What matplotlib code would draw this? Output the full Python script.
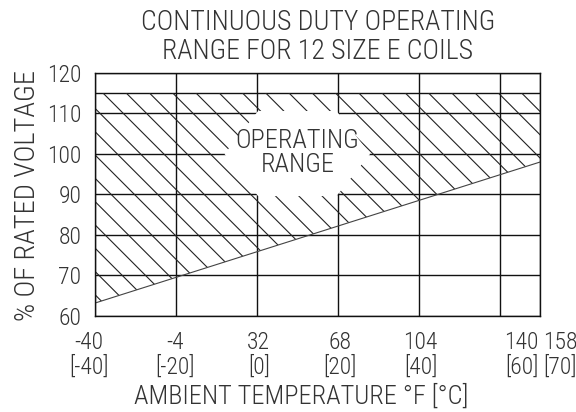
import matplotlib
matplotlib.use('Agg')
import matplotlib.pyplot as plt
import matplotlib.transforms as mtransforms
from matplotlib.patches import Polygon
import numpy as np

plt.rcParams['font.family'] = ['Roboto Condensed', 'DejaVu Sans']
plt.rcParams['font.weight'] = 300
plt.rcParams['axes.labelweight'] = 300

# axis data
temp_c = [-40, -20, 0, 20, 40, 60, 70]
temp_f = [-40, -4, 32, 68, 104, 140, 158]
volt_ticks = [60, 70, 80, 90, 100, 110, 120]

# operating range: upper limit flat, lower limit rises with temperature
range_temp = [-40, 70]
range_min = [63.2, 98.0]
range_max = 115

txt_col = '#333'

fig = plt.figure(figsize=(5.76, 4.12), dpi=100)
ax = fig.add_axes([0.165, 0.233, 0.7725, 0.590])

ax.set_xlim(-40, 70)
ax.set_ylim(60, 120)

labels = ['%d\n[%d]' % (f, c) for f, c in zip(temp_f, temp_c)]
ax.set_xticks(temp_c, labels)
ax.set_yticks(volt_ticks, [str(v) for v in volt_ticks])
ax.tick_params(length=0, labelsize=17, colors=txt_col)
ax.tick_params(axis='y', pad=10)
ax.tick_params(axis='x', pad=10.5)
for lab in ax.get_xticklabels():
    lab.set_linespacing(1.12)

# nudge crowded labels at the right end, like the drawing
shift_px = [-6, -1, 2, 2, 2, 22, 20]
for lab, dx in zip(ax.get_xticklabels(), shift_px):
    off = mtransforms.ScaledTranslation(dx / 100, 0, fig.dpi_scale_trans)
    lab.set_transform(lab.get_transform() + off)

ax.set_axisbelow(True)
ax.grid(True, color='#111', linewidth=1.0)
for s in ax.spines.values():
    s.set_color('#111')
    s.set_linewidth(1.0)

# upper limit line
ax.axhline(range_max, color='#111', linewidth=1.0, zorder=1.5)

# hatched operating region
verts = [(range_temp[0], range_min[0]), (range_temp[1], range_min[1]),
         (range_temp[1], range_max), (range_temp[0], range_max)]
region = Polygon(verts, closed=True, facecolor='none', edgecolor='none')
ax.add_patch(region)
xs = np.array(range_temp, dtype=float)
for c in np.arange(77.0 - 5.75 * 12, 190, 5.75):
    ln, = ax.plot(xs, c - xs, color='#222', linewidth=0.8, zorder=2)
    ln.set_clip_path(region)
ax.plot(range_temp, range_min, color='#444', linewidth=0.8, zorder=2)

# white area behind the label
mask = Polygon([(0.3, 110.6), (19.7, 110.6), (28.0, 100), (19.7, 89.6),
                (0.3, 89.6), (-8.0, 100)], closed=True,
               facecolor='white', edgecolor='none', zorder=3)
ax.add_patch(mask)
ax.text(10, 100.2, 'OPERATING\nRANGE', ha='center', va='center',
        fontsize=19, color=txt_col, linespacing=1.0, zorder=4)

ax.set_ylabel('% OF RATED VOLTAGE', fontsize=20.5, color=txt_col)
ax.yaxis.set_label_coords(-0.152, 0.494)
ax.yaxis.label.set_va('center')
ax.set_xlabel('AMBIENT TEMPERATURE °F [°C]', fontsize=19, color=txt_col)
ax.xaxis.set_label_coords(0.463, -0.33)
ax.xaxis.label.set_va('center')

fig.text(0.552, 0.911, 'CONTINUOUS DUTY OPERATING\nRANGE FOR 12 SIZE E COILS',
         ha='center', va='center', fontsize=20, color=txt_col, linespacing=1.1)

fig.savefig('out.png', dpi=100)
